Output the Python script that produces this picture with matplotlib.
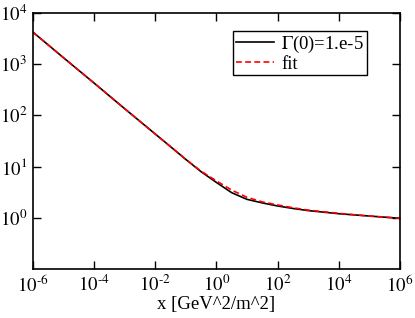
import numpy as np
import matplotlib
matplotlib.use("Agg")
import matplotlib.pyplot as plt
from matplotlib.ticker import NullLocator

plt.rcParams['font.family'] = ['Liberation Serif', 'DejaVu Serif']
plt.rcParams['mathtext.fontset'] = 'stix'

# data
x_vals = [1e-6, 1e-5, 1e-4, 1e-3, 1e-2, 3.16e-2, 1e-1, 3.16e-1, 1.0, 3.16,
          10.0, 31.6, 100.0, 316.0, 1e3, 1e4, 1e5, 1e6]
gamma_vals = [4217, 1334, 427, 135, 43.2, 24.5, 13.8, 7.94, 4.90, 3.09,
              2.29, 1.95, 1.70, 1.52, 1.38, 1.20, 1.08, 0.977]
fit_vals = [4217, 1334, 427, 135, 43.2, 24.5, 13.8, 8.13, 5.25, 3.47,
            2.51, 2.04, 1.78, 1.57, 1.41, 1.22, 1.08, 0.977]

xtick_pos = [1e-6, 1e-4, 1e-2, 1, 1e2, 1e4, 1e6]
xtick_lab = [r'$10^{\text{-}6}$', r'$10^{\text{-}4}$', r'$10^{\text{-}2}$',
             r'$10^{0}$', r'$10^{2}$', r'$10^{4}$', r'$10^{6}$']
ytick_pos = [1, 10, 100, 1e3, 1e4]
ytick_lab = [r'$10^{0}$', r'$10^{1}$', r'$10^{2}$', r'$10^{3}$', r'$10^{4}$']

fig = plt.figure(figsize=(4.15, 3.18), dpi=100)
ax = fig.add_axes([0.0788, 0.154, 0.885, 0.806])

ax.plot(x_vals, gamma_vals, color='black', lw=1.2, label=r'$\Gamma$(0)=1.e-5')
ax.plot(x_vals, fit_vals, color='red', lw=1.2, ls=(0, (3.5, 2)), label='fit')

ax.set_xscale('log')
ax.set_yscale('log')
ax.set_xlim(1e-6, 1e6)
ax.set_ylim(1e-1, 1e4)

ax.set_xticks(xtick_pos)
ax.set_xticklabels(xtick_lab)
ax.set_yticks(ytick_pos)
ax.set_yticklabels(ytick_lab)
ax.xaxis.set_minor_locator(NullLocator())
ax.yaxis.set_minor_locator(NullLocator())

ax.tick_params(which='both', direction='in', top=True, right=True,
               length=6, width=1, labelsize=13.5, pad=4)
for s in ax.spines.values():
    s.set_linewidth(1.2)

ax.set_xlabel('x [GeV^2/m^2]', fontsize=13.5, labelpad=0)

ax.legend(loc='upper left', bbox_to_anchor=(0.546, 0.93), fontsize=13.5,
          frameon=True, fancybox=False, framealpha=1, edgecolor='black',
          handlelength=2.0, handletextpad=0.4, borderpad=0.15,
          labelspacing=0.05, borderaxespad=0)

fig.savefig('out.png', dpi=100)
